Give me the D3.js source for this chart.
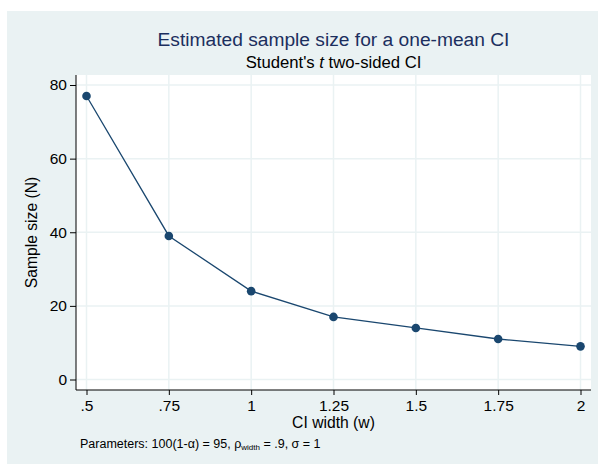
<!DOCTYPE html>
<html>
<head>
<meta charset="utf-8">
<script src="https://cdn.jsdelivr.net/npm/d3@7"></script>
<style>
html,body{margin:0;padding:0;background:#fff;}
svg{display:block;font-family:"Liberation Sans",Arial,sans-serif;}
</style>
</head>
<body>
<svg id="chart" width="598" height="464"></svg>
<script>
const widths = [0.5, 0.75, 1, 1.25, 1.5, 1.75, 2];
const sampleSizes = [77, 39, 24, 17, 14, 11, 9];
const xTickLabels = [".5", ".75", "1", "1.25", "1.5", "1.75", "2"];
const yTicks = [0, 20, 40, 60, 80];

const svg = d3.select("#chart");
svg.append("rect").attr("x", 7).attr("y", 11).attr("width", 591).attr("height", 453).attr("fill", "#eaf2f3");

const plot = {left: 76, right: 591, top: 75, bottom: 390};
svg.append("rect").attr("x", plot.left).attr("y", plot.top)
  .attr("width", plot.right - plot.left).attr("height", plot.bottom - plot.top).attr("fill", "#fff");

const x = d3.scaleLinear().domain([0.5, 2]).range([86.5, 580.5]);
const y = d3.scaleLinear().domain([0, 80]).range([379.5, 85]);

// gridlines
svg.append("g").selectAll("line").data(yTicks).join("line")
  .attr("x1", plot.left).attr("x2", plot.right)
  .attr("y1", d => y(d)).attr("y2", d => y(d))
  .attr("stroke", "#eaf2f3").attr("stroke-width", 1.5);
svg.append("g").selectAll("line").data(widths).join("line")
  .attr("y1", plot.top).attr("y2", plot.bottom)
  .attr("x1", d => x(d)).attr("x2", d => x(d))
  .attr("stroke", "#eaf2f3").attr("stroke-width", 1.5);

// axes
const xAxis = d3.axisBottom(x).tickValues(widths).tickFormat((d, i) => xTickLabels[i]).tickSize(5).tickPadding(4);
const gx = svg.append("g").attr("transform", `translate(0,${plot.bottom})`).call(xAxis);
gx.select(".domain").attr("d", `M${plot.left},0H${plot.right}`).attr("stroke", "#000");
gx.selectAll("text").attr("font-size", 15.5).attr("fill", "#000").attr("font-family", "Liberation Sans, Arial, sans-serif")
  .attr("dy", null).attr("y", 21);
gx.selectAll(".tick line").attr("stroke", "#000");

const yAxis = d3.axisLeft(y).tickValues(yTicks).tickSize(6).tickPadding(3);
const gy = svg.append("g").attr("transform", `translate(${plot.left},0)`).call(yAxis);
gy.select(".domain").attr("d", `M0,${plot.top}V${plot.bottom}`).attr("stroke", "#000");
gy.selectAll("text").attr("font-size", 15.5).attr("fill", "#000").attr("font-family", "Liberation Sans, Arial, sans-serif");
gy.selectAll(".tick line").attr("stroke", "#000");

// line + markers
const line = d3.line().x((d, i) => x(widths[i])).y(d => y(d));
svg.append("path").datum(sampleSizes).attr("d", line)
  .attr("fill", "none").attr("stroke", "#1a476f").attr("stroke-width", 1.3);
svg.append("g").selectAll("circle").data(sampleSizes).join("circle")
  .attr("cx", (d, i) => x(widths[i])).attr("cy", d => y(d)).attr("r", 4.3)
  .attr("fill", "#1a476f");

// titles
const cx = (plot.left + plot.right) / 2;
svg.append("text").attr("x", cx).attr("y", 45.5).attr("text-anchor", "middle")
  .attr("font-size", 19.2).attr("fill", "#1c2f5e").text("Estimated sample size for a one-mean CI");
const sub = svg.append("text").attr("x", cx).attr("y", 67.5).attr("text-anchor", "middle")
  .attr("font-size", 16.7).attr("fill", "#000");
sub.append("tspan").text("Student's ");
sub.append("tspan").attr("font-style", "italic").text("t");
sub.append("tspan").text(" two-sided CI");

svg.append("text").attr("x", cx).attr("y", 428).attr("text-anchor", "middle")
  .attr("font-size", 15.7).attr("fill", "#000").text("CI width (w)");
svg.append("text").attr("transform", `translate(37,${(plot.top + plot.bottom) / 2}) rotate(-90)`)
  .attr("text-anchor", "middle").attr("font-size", 15.7).attr("fill", "#000").text("Sample size (N)");

const note = svg.append("text").attr("x", 80).attr("y", 448).attr("font-size", 12.5).attr("fill", "#000");
note.append("tspan").text("Parameters: 100(1-α) = 95, ρ");
note.append("tspan").attr("font-size", 8).attr("dy", 2).text("width");
note.append("tspan").attr("dy", -2).text(" = .9, σ = 1");
</script>
</body>
</html>
